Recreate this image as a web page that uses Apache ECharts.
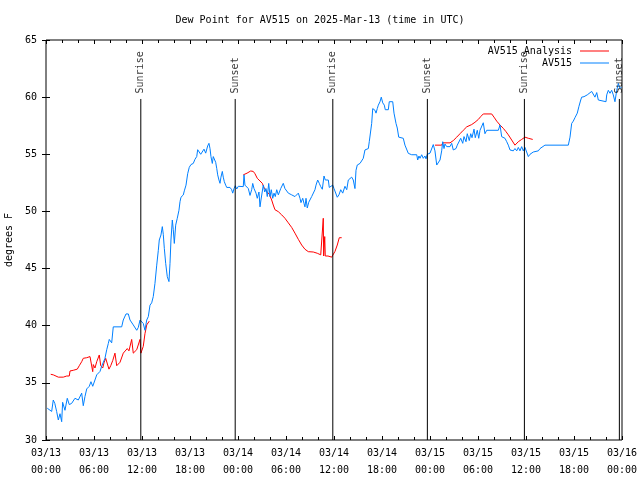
<!DOCTYPE html>
<html>
<head>
<meta charset="utf-8">
<script src="https://cdn.jsdelivr.net/npm/echarts@6/dist/echarts.min.js"></script>
<style>html,body{margin:0;padding:0;background:#fff}#c{width:640px;height:480px}</style>
</head>
<body>
<div id="c"></div>
<script>
// x values are hours since 2025-03-13 00:00 UTC
const xTickLabels = ['03/13\n00:00','03/13\n06:00','03/13\n12:00','03/13\n18:00','03/14\n00:00','03/14\n06:00','03/14\n12:00','03/14\n18:00','03/15\n00:00','03/15\n06:00','03/15\n12:00','03/15\n18:00','03/16\n00:00'];
const sunriseHours = [11.85, 35.85, 59.8];
const sunsetHours = [23.65, 47.67, 71.67];
const sunLineTop = 59.84;

const av515 = [
[0.16,32.78],[0.71,32.5],[0.91,33.5],[1.1,33.2],[1.33,32.5],[1.54,31.75],[1.75,32.3],[1.96,31.6],[2.08,33.3],[2.37,32.6],[2.66,33.65],[2.91,33.1],[3.2,33.2],[3.4,33.2],[3.62,33.65],[4.04,33.5],[4.25,33.4],[4.46,34.1],[4.66,33.0],[4.87,33.8],[5.09,34.47],[5.41,34.7],[5.62,35.1],[5.84,34.7],[6.12,35.25],[6.34,35.7],[6.54,35.6],[6.75,36.0],[6.96,36.45],[7.37,37.15],[7.59,37.9],[7.79,38.45],[7.91,38.8],[8.09,38.8],[8.21,38.5],[8.41,39.9],[9.46,39.9],[9.66,40.5],[10.0,41.03],[10.29,41.03],[10.5,40.5],[10.71,40.4],[10.91,40.07],[11.12,40.07],[11.34,39.6],[11.54,39.85],[11.75,40.5],[11.96,40.5],[12.16,40.2],[12.37,39.6],[12.59,40.5],[12.79,40.8],[13.0,41.8],[13.21,42.0],[13.41,42.55],[13.62,43.7],[13.84,45.3],[14.04,46.6],[14.16,47.5],[14.37,47.94],[14.54,48.67],[14.66,48.0],[14.79,46.77],[14.96,45.46],[15.16,44.3],[15.37,43.86],[15.5,45.46],[15.62,47.5],[15.79,49.25],[15.91,48.4],[16.04,47.2],[16.21,48.8],[16.41,49.4],[16.62,50.1],[16.75,50.85],[16.87,51.24],[17.16,51.44],[17.29,51.8],[17.5,52.3],[17.71,53.3],[17.91,53.86],[18.12,54.1],[18.41,54.2],[18.62,54.56],[18.84,54.8],[18.96,55.4],[19.12,55.5],[19.34,55.0],[19.54,55.0],[19.75,55.45],[19.96,55.1],[20.21,55.73],[20.37,55.96],[20.5,55.5],[20.62,54.8],[20.79,54.2],[20.91,54.8],[21.04,54.96],[21.21,54.3],[21.34,53.77],[21.46,53.2],[21.62,52.75],[21.75,52.46],[21.87,53.0],[22.04,53.5],[22.16,53.0],[22.29,52.6],[22.46,52.3],[22.59,52.1],[23.0,52.1],[23.21,51.9],[23.34,51.6],[23.5,52.0],[23.66,52.25],[23.84,51.96],[24.04,52.2],[24.25,52.15],[24.66,52.17],[24.75,53.2],[24.87,52.3],[25.09,52.45],[25.29,52.0],[25.5,51.4],[25.71,51.9],[25.84,52.45],[26.0,52.0],[26.25,51.6],[26.41,51.15],[26.62,51.7],[26.75,50.4],[26.87,51.0],[27.04,51.15],[27.16,52.3],[27.34,51.7],[27.5,52.0],[27.66,51.3],[27.84,52.45],[28.0,51.3],[28.16,51.9],[28.34,51.15],[28.5,51.6],[28.66,51.3],[28.84,51.9],[29.04,51.45],[29.16,51.6],[29.34,52.0],[29.54,52.15],[29.66,52.46],[29.87,52.0],[30.09,52.0],[30.29,51.6],[30.5,51.75],[30.71,51.45],[30.91,51.6],[31.12,51.3],[31.34,51.3],[31.54,51.6],[31.75,51.15],[31.87,50.77],[32.09,51.15],[32.25,50.7],[32.37,50.4],[32.5,51.15],[32.66,50.3],[32.84,50.8],[33.0,50.9],[33.21,51.3],[33.41,51.45],[33.62,51.9],[33.75,52.3],[33.96,52.75],[34.16,52.46],[34.34,52.17],[34.54,51.94],[34.75,53.1],[34.91,52.75],[35.09,52.9],[35.29,52.75],[35.41,52.1],[35.62,52.17],[35.84,52.3],[36.0,52.0],[36.25,52.17],[36.41,51.24],[36.62,51.45],[36.84,51.9],[37.09,51.6],[37.37,52.2],[37.59,51.9],[37.79,52.75],[38.0,52.75],[38.21,53.0],[38.41,52.75],[38.62,52.0],[38.75,53.6],[38.91,54.06],[39.04,53.95],[39.25,54.2],[39.46,54.35],[39.66,54.65],[39.87,55.38],[40.09,55.38],[40.29,55.5],[40.41,56.1],[40.59,56.2],[40.71,57.7],[40.84,59.0],[41.12,58.85],[41.25,58.6],[41.41,59.0],[41.54,59.3],[41.75,59.6],[41.91,60.0],[42.09,59.5],[42.29,59.3],[42.41,58.9],[42.79,58.9],[42.91,59.6],[43.34,59.6],[43.5,58.6],[43.75,57.7],[43.91,57.3],[44.09,56.5],[44.25,56.4],[44.66,56.4],[44.87,55.8],[45.09,55.67],[45.29,55.08],[45.71,54.96],[45.91,55.0],[46.34,54.96],[46.46,54.5],[46.62,54.85],[46.75,54.65],[46.96,54.96],[47.16,54.65],[47.37,54.85],[47.5,54.6],[47.66,55.0],[48.0,55.1],[48.21,55.15],[48.41,55.85],[48.62,55.3],[48.84,54.06],[49.04,54.06],[49.25,54.5],[49.46,55.3],[49.59,56.1],[49.75,55.5],[49.87,55.9],[50.09,55.67],[50.29,55.5],[50.5,55.67],[50.71,55.96],[50.91,55.38],[51.04,55.3],[51.25,55.5],[51.41,55.8],[51.66,55.96],[51.84,56.4],[52.09,55.96],[52.25,56.55],[52.5,56.1],[52.66,56.8],[52.91,56.2],[53.09,56.8],[53.25,56.45],[53.5,57.2],[53.66,56.45],[53.91,57.1],[54.09,56.4],[54.25,57.1],[54.46,57.25],[54.66,57.76],[54.87,56.8],[55.09,57.1],[55.29,57.1],[56.54,57.1],[56.75,57.56],[56.96,56.54],[57.16,56.4],[57.37,56.4],[57.59,56.1],[57.79,55.8],[58.0,55.38],[58.21,55.5],[58.41,55.3],[58.62,55.5],[58.84,55.3],[59.04,55.6],[59.25,55.3],[59.46,55.67],[59.66,55.3],[59.87,55.6],[60.09,55.45],[60.29,54.8],[60.5,55.0],[60.91,55.2],[61.12,55.3],[61.54,55.3],[61.75,55.5],[62.37,55.8],[65.29,55.8],[65.5,56.5],[65.71,57.7],[65.91,57.9],[66.12,58.2],[66.41,58.6],[66.62,59.2],[66.84,59.75],[66.96,60.0],[67.25,60.04],[67.5,59.9],[67.66,60.2],[67.91,60.34],[68.21,60.5],[68.41,60.34],[68.62,60.0],[68.84,60.4],[69.04,59.75],[69.25,59.6],[70.0,59.6],[70.09,60.2],[70.29,60.6],[70.5,60.34],[70.71,60.6],[70.91,60.2],[71.12,59.6],[71.34,60.6],[71.54,61.2],[71.75,60.75],[71.96,60.9]
];

const analysisSeg1 = [[0.59,35.75],[0.91,35.7],[1.12,35.6],[1.54,35.5],[2.16,35.5],[2.59,35.6],[2.91,35.6],[3.0,36.04],[3.41,36.1],[3.91,36.2],[4.16,36.5],[4.46,36.85],[4.66,37.15],[5.09,37.2],[5.5,37.3],[5.71,37.3],[5.84,35.98],[5.91,36.6],[6.12,36.3],[6.34,36.85],[6.66,37.44],[6.84,36.5],[7.09,36.3],[7.25,36.75],[7.46,37.15],[7.59,37.3],[7.87,36.2],[8.09,36.5],[8.34,36.95],[8.62,37.6],[8.84,36.5],[9.25,36.8],[9.66,37.6],[9.87,37.45],[10.16,38.0],[10.37,37.8],[10.71,38.8],[10.91,37.6],[11.34,37.9],[11.75,38.8],[11.87,37.6],[12.16,38.2],[12.37,39.3],[12.59,40.07],[12.91,40.4]];
const analysisSeg2 = [[24.66,53.2],[25.13,53.35],[25.59,53.54],[25.91,53.5],[26.12,53.3],[26.41,52.9],[26.75,52.66],[27.04,52.46],[27.25,52.1],[27.59,51.75],[27.91,51.5],[28.21,51.0],[28.41,50.56],[28.62,50.15],[29.04,49.98],[29.46,49.7],[29.87,49.4],[30.29,49.0],[30.71,48.6],[31.12,48.1],[31.54,47.56],[31.96,47.06],[32.37,46.69],[32.79,46.48],[33.41,46.45],[33.91,46.34],[34.34,46.2],[34.59,46.1],[34.66,49.4],[34.71,46.1],[34.84,47.8],[34.91,46.1],[35.25,46.1],[35.71,46.0],[35.91,45.9],[36.12,46.5],[36.41,47.06],[36.66,47.7],[36.96,47.7]];
const analysisSeg3 = [[48.62,55.8],[49.46,55.8],[49.59,56.0],[50.5,56.0],[50.91,56.2],[51.34,56.5],[51.75,56.8],[52.16,57.1],[52.59,57.4],[53.21,57.6],[53.62,57.8],[54.04,58.05],[54.34,58.3],[54.66,58.53],[55.71,58.53],[56.0,58.25],[56.34,57.9],[56.75,57.56],[57.16,57.27],[57.5,56.98],[57.79,56.7],[58.21,56.25],[58.62,55.8],[59.04,56.1],[59.46,56.3],[59.87,56.5],[60.29,56.4],[60.84,56.3]];

const FONT = 'DejaVu Sans Mono';
const chart = echarts.init(document.getElementById('c'));

function lineSeries(name, data, color, z) {
  return { name, type: 'line', data, showSymbol: false, symbol: 'none', animation: false,
    lineStyle: { color, width: 1 }, itemStyle: { color }, z, silent: true };
}
function sunSeries(h) {
  return { type: 'line', animation: false, silent: true, symbol: 'none', z: 10,
    lineStyle: { color: '#000', width: 1 },
    data: [[h, 30], [h, sunLineTop]] };
}
function sunLabelSeries(hours, text) {
  return { type: 'scatter', animation: false, silent: true, symbolSize: 1, z: 11,
    itemStyle: { color: 'rgba(0,0,0,0)' },
    data: hours.map(h => [h, sunLineTop]),
    label: { show: true, formatter: text, position: 'top', distance: 5, rotate: 90,
      align: 'left', verticalAlign: 'middle', color: '#000', fontFamily: FONT, fontSize: 10 } };
}

const axisCommonX = {
  type: 'value', min: 0, max: 72, interval: 6,
  axisLine: { show: false }, splitLine: { show: false },
  axisTick: { show: true, inside: true, length: 4, lineStyle: { color: '#000' } },
  minorTick: { show: true, splitNumber: 3, length: 3, lineStyle: { color: '#000' } },
};
const axisCommonY = {
  type: 'value', min: 30, max: 65, interval: 5,
  axisLine: { show: false }, splitLine: { show: false },
  axisTick: { show: true, inside: true, length: 4, lineStyle: { color: '#000' } },
};

const series = [
  lineSeries('AV515 Analysis', analysisSeg1, '#ff0000', 2),
  lineSeries('AV515 Analysis', analysisSeg2, '#ff0000', 2),
  lineSeries('AV515 Analysis', analysisSeg3, '#ff0000', 2),
  lineSeries('AV515', av515, '#0080ff', 3),
];
sunriseHours.forEach(h => series.push(sunSeries(h)));
sunsetHours.forEach(h => series.push(sunSeries(h)));
series.push(sunLabelSeries(sunriseHours, 'Sunrise'));
series.push(sunLabelSeries(sunsetHours, 'Sunset'));

chart.setOption({
  backgroundColor: '#fff',
  animation: false,
  textStyle: { fontFamily: FONT },
  title: { text: 'Dew Point for AV515 on 2025-Mar-13 (time in UTC)', left: 'center', top: 10,
    textStyle: { fontFamily: FONT, fontSize: 10, fontWeight: 'normal', color: '#000' } },
  legend: { data: ['AV515 Analysis', 'AV515'], orient: 'vertical', right: 26, top: 41,
    align: 'right', icon: 'rect', itemWidth: 29, itemHeight: 1, itemGap: 2,
    textStyle: { fontFamily: FONT, fontSize: 10, color: '#000', padding: [0, 3, 0, 0] } },
  grid: { left: 46, right: 18, top: 40, bottom: 40, show: true, borderColor: '#000', borderWidth: 1,
    backgroundColor: 'transparent', containLabel: false, outerBoundsMode: 'none' },
  xAxis: [
    Object.assign({}, axisCommonX, { position: 'bottom',
      axisLabel: { show: true, margin: 5, lineHeight: 17, fontFamily: FONT, fontSize: 10, color: '#000',
        formatter: v => xTickLabels[Math.round(v / 6)] } }),
    Object.assign({}, axisCommonX, { position: 'top', axisLabel: { show: false } })
  ],
  yAxis: [
    Object.assign({}, axisCommonY, { position: 'left', name: 'degrees F', nameLocation: 'middle', nameGap: 30,
      nameTextStyle: { fontFamily: FONT, fontSize: 10, color: '#000' },
      axisLabel: { show: true, margin: 9, fontFamily: FONT, fontSize: 10, color: '#000' } }),
    Object.assign({}, axisCommonY, { position: 'right', axisLabel: { show: false } })
  ],
  series
});
</script>
</body>
</html>
